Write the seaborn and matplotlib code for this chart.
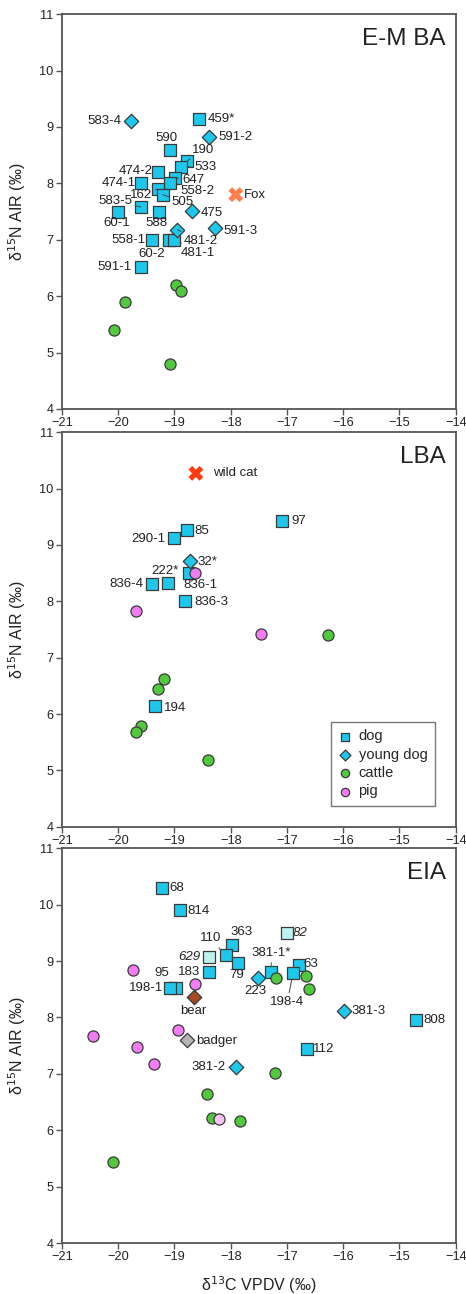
import matplotlib
matplotlib.use('Agg')
import matplotlib.pyplot as plt
import seaborn as sns
import pandas as pd

# ---- E-M BA ----
emba_dog_labels = ['459*', '590', '190', '533', '474-2', '647', '474-1', '558-2', '162', '505',
                   '583-5', '60-1', '588', '558-1', '60-2', '481-1', '591-1']
emba_dog_x = [-18.56, -19.08, -18.77, -18.89, -19.29, -18.99, -19.60, -19.08, -19.29, -19.21,
              -19.60, -20.00, -19.28, -19.40, -19.10, -19.00, -19.59]
emba_dog_y = [9.15, 8.60, 8.40, 8.29, 8.20, 8.10, 8.00, 8.00, 7.90, 7.80,
              7.58, 7.49, 7.50, 6.99, 7.00, 7.00, 6.51]
emba_young_labels = ['583-4', '591-2', '475', '481-2', '591-3']
emba_young_x = [-19.78, -18.38, -18.68, -18.95, -18.28]
emba_young_y = [9.11, 8.82, 7.51, 7.18, 7.21]
emba_cattle_x = [-18.98, -18.88, -19.88, -20.08, -19.08]
emba_cattle_y = [6.20, 6.09, 5.90, 5.40, 4.79]
emba_fox_x = [-17.91]
emba_fox_y = [7.80]

# ---- LBA ----
lba_dog_labels = ['97', '85', '290-1', '222*', '836-1', '836-4', '836-3', '194']
lba_dog_x = [-17.09, -18.77, -19.00, -18.75, -19.11, -19.40, -18.82, -19.34]
lba_dog_y = [9.43, 9.27, 9.12, 8.50, 8.32, 8.30, 8.00, 6.15]
lba_young_labels = ['32*']
lba_young_x = [-18.73]
lba_young_y = [8.72]
lba_cattle_x = [-16.27, -19.18, -19.29, -19.59, -19.69, -18.40]
lba_cattle_y = [7.40, 6.62, 6.45, 5.79, 5.68, 5.19]
lba_pig_x = [-18.64, -19.69, -17.47]
lba_pig_y = [8.50, 7.83, 7.42]
lba_cat_x = [-18.62]
lba_cat_y = [10.27]

# ---- EIA ----
eia_dog_labels = ['68', '814', '363', '110', '79', '63', '183', '381-1*', '198-4', '95',
                  '198-1', '808', '112']
eia_dog_x = [-19.22, -18.90, -17.97, -18.09, -17.87, -16.79, -18.38, -17.28, -16.89, -18.98,
             -19.08, -14.71, -16.64]
eia_dog_y = [10.30, 9.91, 9.29, 9.10, 8.96, 8.93, 8.80, 8.80, 8.79, 8.53,
             8.53, 7.96, 7.45]
eia_pale_dog_labels = ['629', '82']
eia_pale_dog_x = [-18.38, -17.00]
eia_pale_dog_y = [9.07, 9.49]
eia_young_labels = ['223', '381-3', '381-2']
eia_young_x = [-17.51, -15.99, -17.91]
eia_young_y = [8.70, 8.12, 7.12]
eia_cattle_x = [-17.19, -16.66, -16.60, -17.22, -18.42, -18.33, -17.84, -20.09]
eia_cattle_y = [8.70, 8.73, 8.50, 7.02, 6.64, 6.21, 6.17, 5.43]
eia_pig_x = [-19.74, -18.64, -20.44, -18.94, -19.66, -19.36]
eia_pig_y = [8.85, 8.59, 7.68, 7.77, 7.47, 7.18]
eia_pale_pig_x = [-18.21]
eia_pale_pig_y = [6.20]
eia_bear_x = [-18.66]
eia_bear_y = [8.36]
eia_badger_x = [-18.77]
eia_badger_y = [7.60]

x_ticks = [-21, -20, -19, -18, -17, -16, -15, -14]
y_ticks = [4, 5, 6, 7, 8, 9, 10, 11]

# label placement: offset in pixels (dx, dy), alignment, leader line
emba_offsets = {
    '583-4': (-9, 0, 'right', False), '459*': (8, 0, 'left', False), '591-2': (9, 0, 'left', False),
    '590': (-4, 12, 'center', False), '190': (5, 11, 'left', True), '533': (14, 0, 'left', True),
    '474-2': (-5, 1, 'right', False), '647': (7, -2, 'left', True), '474-1': (-5, 0, 'right', False),
    '558-2': (10, -8, 'left', True), '162': (-6, -6, 'right', True), '505': (9, -7, 'left', True),
    '583-5': (-8, 6, 'right', True), '475': (8, -2, 'left', False), '60-1': (-1, -11, 'center', False),
    '588': (-2, -11, 'center', False), '481-2': (6, -11, 'left', True), '591-3': (8, -3, 'left', False),
    '558-1': (-6, 0, 'right', False), '60-2': (-4, -14, 'right', True), '481-1': (6, -13, 'left', True),
    '591-1': (-10, 0, 'right', False), 'Fox': (8, 0, 'left', False),
}
lba_offsets = {
    '97': (9, 0, 'left', False), '85': (7, -1, 'left', False), '290-1': (-9, -1, 'right', False),
    '32*': (8, -1, 'left', False), '222*': (-10, 2, 'right', False), '836-1': (15, -2, 'left', False),
    '836-4': (-9, 0, 'right', False), '836-3': (10, -1, 'left', False), '194': (9, -2, 'left', False),
    'wild cat': (17, 0, 'left', False),
}
eia_offsets = {
    '68': (7, 0, 'left', False), '814': (7, -1, 'left', False), '82': (6, 0, 'left', False),
    '363': (9, 13, 'center', False), '110': (-15, 17, 'center', True), '629': (-9, 0, 'right', False),
    '79': (-1, -12, 'center', False), '63': (5, 1, 'left', False), '183': (-9, 0, 'right', False),
    '381-1*': (0, 19, 'center', True), '198-4': (-6, -29, 'center', True), '223': (-3, -13, 'center', False),
    '95': (-6, 15, 'right', True), '198-1': (-7, 0, 'right', False), 'bear': (0, -14, 'center', False),
    '381-3': (8, 0, 'left', False), '808': (8, 0, 'left', False), 'badger': (9, -1, 'left', False),
    '112': (6, 0, 'left', False), '381-2': (-10, 0, 'right', False),
}

sns.set_style('white')
plt.rcParams['font.family'] = ['Liberation Sans', 'DejaVu Sans']

DOG = '#1ec8ec'
PALE_DOG = '#bff2ee'
CATTLE = '#52c83e'
PIG = '#f27cf2'
PALE_PIG = '#f8c6f2'
EDGE = '#3a3a3a'


def pts(ax, x, y, color, marker, size, label=None, edge=EDGE, lw=0.9):
    df = pd.DataFrame({'x': x, 'y': y})
    sns.scatterplot(data=df, x='x', y='y', ax=ax, color=color, marker=marker, s=size,
                    edgecolor=edge, linewidth=lw, legend=False, label=label, zorder=3)


def put_labels(ax, xs, ys, labels, offsets, italic=False):
    for x, y, lab in zip(xs, ys, labels):
        dx, dy, ha, leader = offsets[lab]
        kw = {}
        if leader:
            kw['arrowprops'] = dict(arrowstyle='-', color='#444444', lw=0.7,
                                    shrinkA=0, shrinkB=5)
        ax.annotate(lab, (x, y), xytext=(dx, dy), textcoords='offset pixels',
                    ha=ha, va='center', fontsize=9.5, color='#222222',
                    style='italic' if italic else 'normal', zorder=4, **kw)


def style_axes(ax, title, bottom=False):
    ax.set_xlim(-21, -14)
    ax.set_ylim(4, 11)
    ax.set_xticks(x_ticks)
    ax.set_yticks(y_ticks)
    ax.tick_params(direction='out', length=4, width=1, color='#555555',
                   labelsize=9.2, labelcolor='#222222', bottom=True, left=True, pad=2)
    for sp in ax.spines.values():
        sp.set_color('#555555')
        sp.set_linewidth(1.3)
    ax.set_ylabel('δ$^{15}$N AIR (‰)', fontsize=11.5, color='#222222', labelpad=8)
    if bottom:
        ax.set_xlabel('δ$^{13}$C VPDV (‰)', fontsize=11.5, color='#222222', labelpad=8)
    else:
        ax.set_xlabel('')
    ax.text(0.975, 0.965, title, transform=ax.transAxes, ha='right', va='top',
            fontsize=17.5, color='#222222')


fig = plt.figure(figsize=(4.66, 12.94), dpi=100)
ax1 = fig.add_axes([0.133, 0.684, 0.845, 0.305])
ax2 = fig.add_axes([0.133, 0.361, 0.845, 0.305])
ax3 = fig.add_axes([0.133, 0.0394, 0.845, 0.305])

SQ, DI, CI, XX = 72, 54, 64, 115

# E-M BA
pts(ax1, emba_dog_x, emba_dog_y, DOG, 's', SQ)
pts(ax1, emba_young_x, emba_young_y, DOG, 'D', DI)
pts(ax1, emba_cattle_x, emba_cattle_y, CATTLE, 'o', CI)
pts(ax1, emba_fox_x, emba_fox_y, '#ff7f4a', 'X', XX, edge='none', lw=0)
put_labels(ax1, emba_dog_x, emba_dog_y, emba_dog_labels, emba_offsets)
put_labels(ax1, emba_young_x, emba_young_y, emba_young_labels, emba_offsets)
put_labels(ax1, emba_fox_x, emba_fox_y, ['Fox'], emba_offsets)
style_axes(ax1, 'E-M BA')

# LBA
pts(ax2, lba_dog_x, lba_dog_y, DOG, 's', SQ, label='dog')
pts(ax2, lba_young_x, lba_young_y, DOG, 'D', DI, label='young dog')
pts(ax2, lba_cattle_x, lba_cattle_y, CATTLE, 'o', CI, label='cattle')
pts(ax2, lba_pig_x, lba_pig_y, PIG, 'o', CI, label='pig')
pts(ax2, lba_cat_x, lba_cat_y, '#ff3b10', 'X', XX, edge='none', lw=0)
put_labels(ax2, lba_dog_x, lba_dog_y, lba_dog_labels, lba_offsets)
put_labels(ax2, lba_young_x, lba_young_y, lba_young_labels, lba_offsets)
put_labels(ax2, lba_cat_x, lba_cat_y, ['wild cat'], lba_offsets)
style_axes(ax2, 'LBA')
leg = ax2.legend(loc='lower right', bbox_to_anchor=(0.965, 0.035), fontsize=10.5,
                 markerscale=0.75, frameon=True, fancybox=False, handletextpad=0.4,
                 borderpad=0.5, labelspacing=0.3, handlelength=1.0)
leg.get_frame().set_edgecolor('#555555')
leg.get_frame().set_linewidth(1.0)

# EIA
pts(ax3, eia_dog_x, eia_dog_y, DOG, 's', SQ)
pts(ax3, eia_pale_dog_x, eia_pale_dog_y, PALE_DOG, 's', SQ)
pts(ax3, eia_young_x, eia_young_y, DOG, 'D', DI)
pts(ax3, eia_cattle_x, eia_cattle_y, CATTLE, 'o', CI)
pts(ax3, eia_pig_x, eia_pig_y, PIG, 'o', CI)
pts(ax3, eia_pale_pig_x, eia_pale_pig_y, PALE_PIG, 'o', CI)
pts(ax3, eia_bear_x, eia_bear_y, '#a64a22', 'D', DI)
pts(ax3, eia_badger_x, eia_badger_y, '#b4b4b4', 'D', DI)
put_labels(ax3, eia_dog_x, eia_dog_y, eia_dog_labels, eia_offsets)
put_labels(ax3, eia_pale_dog_x, eia_pale_dog_y, eia_pale_dog_labels, eia_offsets, italic=True)
put_labels(ax3, eia_young_x, eia_young_y, eia_young_labels, eia_offsets)
put_labels(ax3, eia_bear_x, eia_bear_y, ['bear'], eia_offsets)
put_labels(ax3, eia_badger_x, eia_badger_y, ['badger'], eia_offsets)
style_axes(ax3, 'EIA', bottom=True)

fig.savefig('out.png', dpi=100)
